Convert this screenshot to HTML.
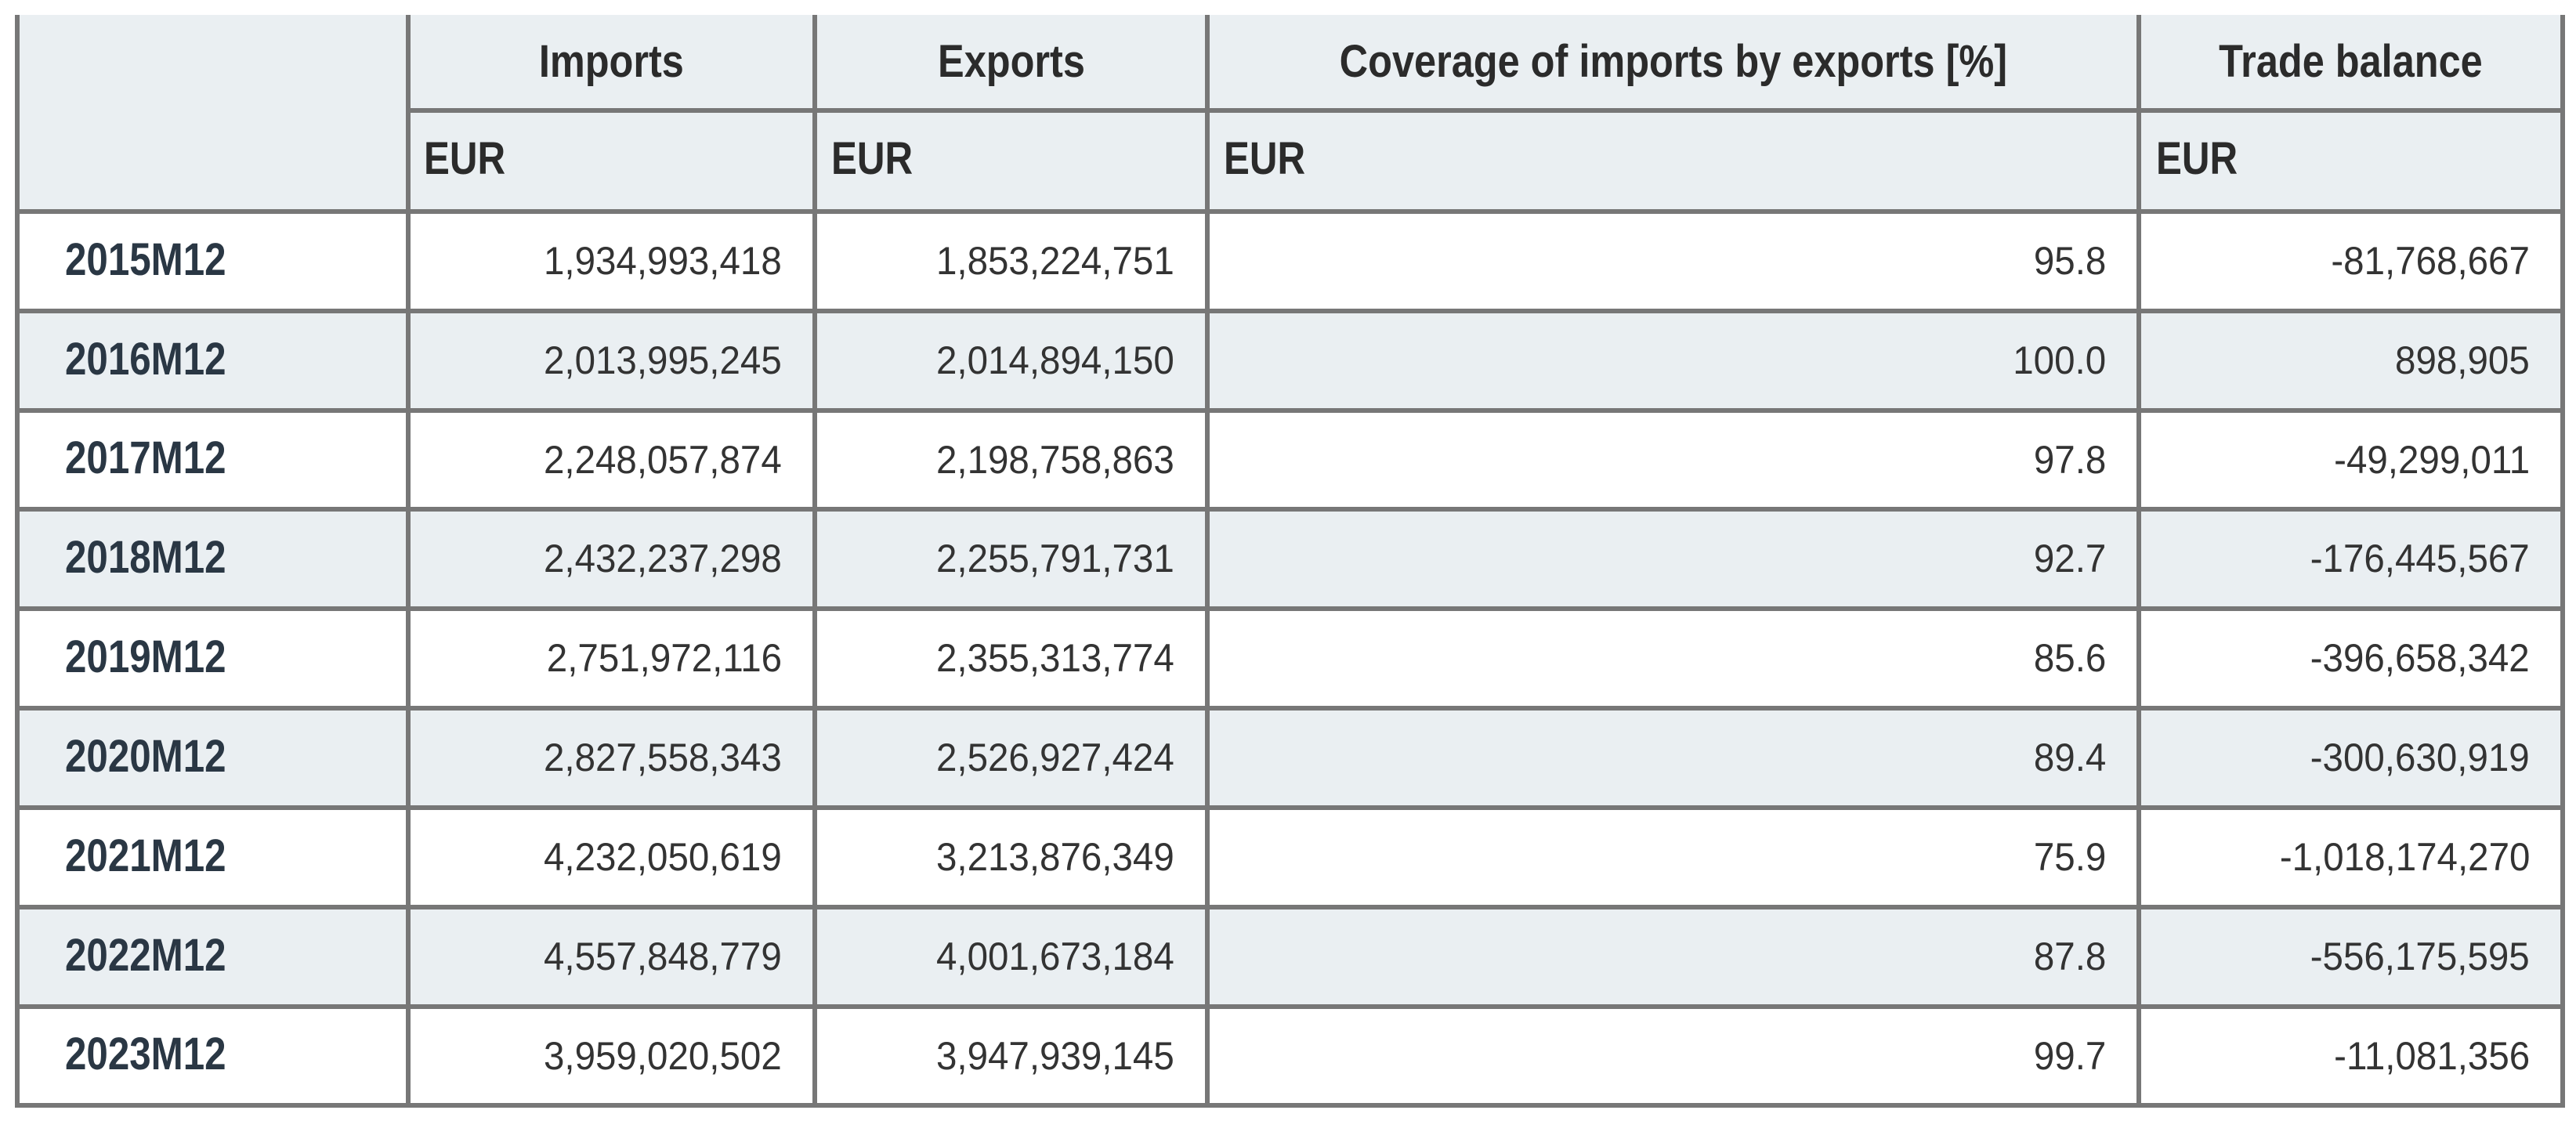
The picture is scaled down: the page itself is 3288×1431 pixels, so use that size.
<!DOCTYPE html>
<html>
<head>
<meta charset="utf-8">
<style>
  html, body { margin:0; padding:0; }
  body { width:3288px; height:1431px; background:#ffffff; position:relative; overflow:hidden; }
  .bg { position:absolute; background:#eaeff2; }
  .vl { position:absolute; width:6px; background:#777777; top:19px; height:1395px; }
  .hl { position:absolute; height:6px; background:#777777; }
  .t { position:absolute; white-space:nowrap; }
  .t span { display:inline-block; }
  .hc { text-align:center; font:bold 58px "Liberation Sans", sans-serif; color:#2b2b2b; }
  .hc span { transform:scaleX(0.87); transform-origin:center; }
  .hl2 { text-align:left; font:bold 58px "Liberation Sans", sans-serif; color:#2b2b2b; }
  .hl2 span { transform:scaleX(0.85); transform-origin:left; }
  .lb { text-align:left; font:bold 58px "Liberation Sans", sans-serif; color:#2a3744; }
  .lb span { transform:scaleX(0.85); transform-origin:left; }
  .dv { text-align:right; font:50px "Liberation Sans", sans-serif; color:#333333; }
  .dv span { transform:scaleX(0.95); transform-origin:right; }
</style>
</head>
<body>
<!-- backgrounds -->
<div class="bg" style="left:19px;top:19px;width:3255px;height:248px;"></div>
<div class="bg" style="left:19px;top:400px;width:3255px;height:121px;"></div>
<div class="bg" style="left:19px;top:653px;width:3255px;height:121px;"></div>
<div class="bg" style="left:19px;top:907px;width:3255px;height:121px;"></div>
<div class="bg" style="left:19px;top:1161px;width:3255px;height:121px;"></div>

<!-- vertical lines -->
<div class="vl" style="left:19px;"></div>
<div class="vl" style="left:518px;"></div>
<div class="vl" style="left:1037px;"></div>
<div class="vl" style="left:1538px;"></div>
<div class="vl" style="left:2727px;"></div>
<div class="vl" style="left:3268px;"></div>

<!-- horizontal lines -->
<div class="hl" style="left:518px;top:138px;width:2756px;"></div>
<div class="hl" style="left:19px;top:267px;width:3255px;"></div>
<div class="hl" style="left:19px;top:394px;width:3255px;"></div>
<div class="hl" style="left:19px;top:521px;width:3255px;"></div>
<div class="hl" style="left:19px;top:647px;width:3255px;"></div>
<div class="hl" style="left:19px;top:774px;width:3255px;"></div>
<div class="hl" style="left:19px;top:901px;width:3255px;"></div>
<div class="hl" style="left:19px;top:1028px;width:3255px;"></div>
<div class="hl" style="left:19px;top:1155px;width:3255px;"></div>
<div class="hl" style="left:19px;top:1282px;width:3255px;"></div>
<div class="hl" style="left:19px;top:1408px;width:3255px;"></div>

<!-- header row 1 -->
<div class="t hc" style="left:524px;width:513px;top:19px;height:119px;line-height:119px;"><span>Imports</span></div>
<div class="t hc" style="left:1043px;width:495px;top:19px;height:119px;line-height:119px;"><span>Exports</span></div>
<div class="t hc" style="left:1544px;width:1183px;top:19px;height:119px;line-height:119px;"><span>Coverage of imports by exports [%]</span></div>
<div class="t hc" style="left:2733px;width:535px;top:19px;height:119px;line-height:119px;"><span>Trade balance</span></div>

<!-- header row 2 -->
<div class="t hl2" style="left:541px;top:141px;height:123px;line-height:123px;"><span>EUR</span></div>
<div class="t hl2" style="left:1061px;top:141px;height:123px;line-height:123px;"><span>EUR</span></div>
<div class="t hl2" style="left:1562px;top:141px;height:123px;line-height:123px;"><span>EUR</span></div>
<div class="t hl2" style="left:2752px;top:141px;height:123px;line-height:123px;"><span>EUR</span></div>

<!-- data rows -->
<!-- row 0 : top 273 h 121 -->
<div class="t lb" style="left:83px;top:271px;height:121px;line-height:121px;"><span>2015M12</span></div>
<div class="t dv" style="left:524px;width:474px;top:273px;height:121px;line-height:121px;"><span>1,934,993,418</span></div>
<div class="t dv" style="left:1043px;width:456px;top:273px;height:121px;line-height:121px;"><span>1,853,224,751</span></div>
<div class="t dv" style="left:1544px;width:1144px;top:273px;height:121px;line-height:121px;"><span>95.8</span></div>
<div class="t dv" style="left:2733px;width:496px;top:273px;height:121px;line-height:121px;"><span>-81,768,667</span></div>

<!-- row 1 : top 400 h 121 -->
<div class="t lb" style="left:83px;top:398px;height:121px;line-height:121px;"><span>2016M12</span></div>
<div class="t dv" style="left:524px;width:474px;top:400px;height:121px;line-height:121px;"><span>2,013,995,245</span></div>
<div class="t dv" style="left:1043px;width:456px;top:400px;height:121px;line-height:121px;"><span>2,014,894,150</span></div>
<div class="t dv" style="left:1544px;width:1144px;top:400px;height:121px;line-height:121px;"><span>100.0</span></div>
<div class="t dv" style="left:2733px;width:496px;top:400px;height:121px;line-height:121px;"><span>898,905</span></div>

<!-- row 2 : top 527 h 120 -->
<div class="t lb" style="left:83px;top:525px;height:120px;line-height:120px;"><span>2017M12</span></div>
<div class="t dv" style="left:524px;width:474px;top:527px;height:120px;line-height:120px;"><span>2,248,057,874</span></div>
<div class="t dv" style="left:1043px;width:456px;top:527px;height:120px;line-height:120px;"><span>2,198,758,863</span></div>
<div class="t dv" style="left:1544px;width:1144px;top:527px;height:120px;line-height:120px;"><span>97.8</span></div>
<div class="t dv" style="left:2733px;width:496px;top:527px;height:120px;line-height:120px;"><span>-49,299,011</span></div>

<!-- row 3 : top 653 h 121 -->
<div class="t lb" style="left:83px;top:651px;height:121px;line-height:121px;"><span>2018M12</span></div>
<div class="t dv" style="left:524px;width:474px;top:653px;height:121px;line-height:121px;"><span>2,432,237,298</span></div>
<div class="t dv" style="left:1043px;width:456px;top:653px;height:121px;line-height:121px;"><span>2,255,791,731</span></div>
<div class="t dv" style="left:1544px;width:1144px;top:653px;height:121px;line-height:121px;"><span>92.7</span></div>
<div class="t dv" style="left:2733px;width:496px;top:653px;height:121px;line-height:121px;"><span>-176,445,567</span></div>

<!-- row 4 : top 780 h 121 -->
<div class="t lb" style="left:83px;top:778px;height:121px;line-height:121px;"><span>2019M12</span></div>
<div class="t dv" style="left:524px;width:474px;top:780px;height:121px;line-height:121px;"><span>2,751,972,116</span></div>
<div class="t dv" style="left:1043px;width:456px;top:780px;height:121px;line-height:121px;"><span>2,355,313,774</span></div>
<div class="t dv" style="left:1544px;width:1144px;top:780px;height:121px;line-height:121px;"><span>85.6</span></div>
<div class="t dv" style="left:2733px;width:496px;top:780px;height:121px;line-height:121px;"><span>-396,658,342</span></div>

<!-- row 5 : top 907 h 121 -->
<div class="t lb" style="left:83px;top:905px;height:121px;line-height:121px;"><span>2020M12</span></div>
<div class="t dv" style="left:524px;width:474px;top:907px;height:121px;line-height:121px;"><span>2,827,558,343</span></div>
<div class="t dv" style="left:1043px;width:456px;top:907px;height:121px;line-height:121px;"><span>2,526,927,424</span></div>
<div class="t dv" style="left:1544px;width:1144px;top:907px;height:121px;line-height:121px;"><span>89.4</span></div>
<div class="t dv" style="left:2733px;width:496px;top:907px;height:121px;line-height:121px;"><span>-300,630,919</span></div>

<!-- row 6 : top 1034 h 121 -->
<div class="t lb" style="left:83px;top:1032px;height:121px;line-height:121px;"><span>2021M12</span></div>
<div class="t dv" style="left:524px;width:474px;top:1034px;height:121px;line-height:121px;"><span>4,232,050,619</span></div>
<div class="t dv" style="left:1043px;width:456px;top:1034px;height:121px;line-height:121px;"><span>3,213,876,349</span></div>
<div class="t dv" style="left:1544px;width:1144px;top:1034px;height:121px;line-height:121px;"><span>75.9</span></div>
<div class="t dv" style="left:2733px;width:496px;top:1034px;height:121px;line-height:121px;"><span>-1,018,174,270</span></div>

<!-- row 7 : top 1161 h 121 -->
<div class="t lb" style="left:83px;top:1159px;height:121px;line-height:121px;"><span>2022M12</span></div>
<div class="t dv" style="left:524px;width:474px;top:1161px;height:121px;line-height:121px;"><span>4,557,848,779</span></div>
<div class="t dv" style="left:1043px;width:456px;top:1161px;height:121px;line-height:121px;"><span>4,001,673,184</span></div>
<div class="t dv" style="left:1544px;width:1144px;top:1161px;height:121px;line-height:121px;"><span>87.8</span></div>
<div class="t dv" style="left:2733px;width:496px;top:1161px;height:121px;line-height:121px;"><span>-556,175,595</span></div>

<!-- row 8 : top 1288 h 120 -->
<div class="t lb" style="left:83px;top:1286px;height:120px;line-height:120px;"><span>2023M12</span></div>
<div class="t dv" style="left:524px;width:474px;top:1288px;height:120px;line-height:120px;"><span>3,959,020,502</span></div>
<div class="t dv" style="left:1043px;width:456px;top:1288px;height:120px;line-height:120px;"><span>3,947,939,145</span></div>
<div class="t dv" style="left:1544px;width:1144px;top:1288px;height:120px;line-height:120px;"><span>99.7</span></div>
<div class="t dv" style="left:2733px;width:496px;top:1288px;height:120px;line-height:120px;"><span>-11,081,356</span></div>

</body>
</html>
